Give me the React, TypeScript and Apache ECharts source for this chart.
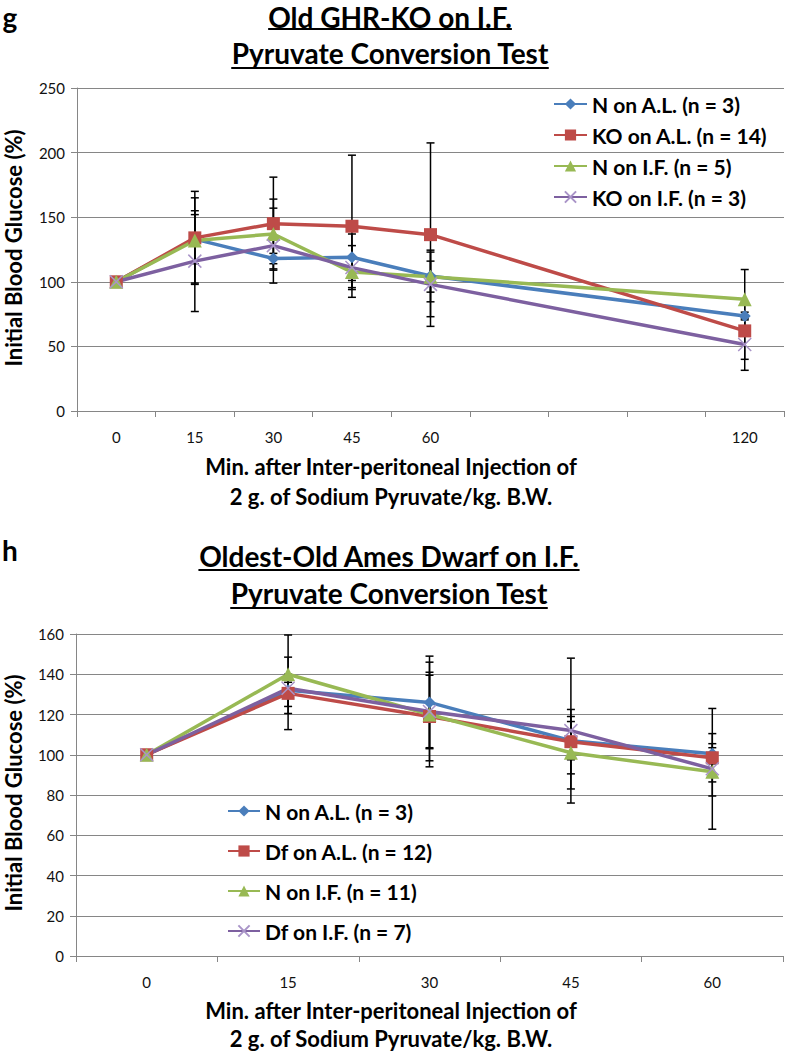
import React, { useEffect, useRef } from "react";
import * as echarts from "echarts";

// ---------- Data ----------
const topCategories = ["0", "15", "30", "45", "60", "", "", "", "120"];
const topNames = ["N on A.L. (n = 3)", "KO on A.L. (n = 14)", "N on I.F. (n = 5)", "KO on I.F. (n = 3)"];
const topNAL = [100, 133, 118, 119, 104.5, null, null, null, 73.5];
const topKOAL = [100, 134, 145, 143, 136.5, null, null, null, 62];
const topNIF = [100, 132, 137, 107.5, 104, null, null, null, 86.5];
const topKOIF = [100, 116, 128, 111, 98, null, null, null, 51.5];
const topNALErr = [0, 19, 4, 18, 20, null, null, null, 3];
const topKOALErr = [0, 36, 36, 55, 71, null, null, null, 22];
const topNIFErr = [0, 33, 27, 12, 12, null, null, null, 23];
const topKOIFErr = [0, 39, 29, 17, 25, null, null, null, 20];

const botCategories = ["0", "15", "30", "45", "60"];
const botNames = ["N on A.L. (n = 3)", "Df on A.L. (n = 12)", "N on I.F. (n = 11)", "Df on I.F. (n = 7)"];
const botNAL = [100, 132, 126, 107, 100.5];
const botDfAL = [100, 130.5, 119, 106.5, 98.5];
const botNIF = [100, 140, 120, 101, 91.5];
const botDfIF = [100, 133, 121.5, 112, 93];
const botNALErr = [0, 8, 23, 9.5, 5];
const botDfALErr = [0, 18, 22, 16, 12];
const botNIFErr = [0, 19.5, 26, 18, 12];
const botDfIFErr = [0, 3, 18, 36, 30];

const colors = ["#4A7EBB", "#BE4B48", "#98B954", "#7D60A0"];
const XPATH = "path://M0,0L10,10M10,0L0,10";
const symbols = ["diamond", "rect", "triangle", XPATH];
const symbolSizes = [12, 13, 14, 13];

const FONT = 'Lato, "Open Sans", sans-serif';

function measure(text: string, size: number, weight: string) {
  const c = document.createElement("canvas").getContext("2d")!;
  c.font = `${weight} ${size}px Lato`;
  return c.measureText(text).width;
}

function lineSeries(name: string, data: any[], i: number, axis: number) {
  const isX = i === 3;
  return {
    type: "line",
    name,
    data,
    xAxisIndex: axis,
    yAxisIndex: axis,
    connectNulls: true,
    symbol: symbols[i],
    symbolSize: symbolSizes[i],
    showAllSymbol: true,
    lineStyle: { color: colors[i], width: 3.5 },
    itemStyle: isX
      ? { color: "#A994C8", borderColor: "#A994C8", borderWidth: 1.5 }
      : { color: colors[i], borderWidth: 0 },
    z: 3,
  };
}

function errSeries(vals: any[], errs: any[], axis: number) {
  const data: any[] = [];
  vals.forEach((v, i) => {
    const e = errs[i];
    if (v != null && e != null && e > 0) data.push([i, v - e, v + e]);
  });
  return {
    type: "custom",
    xAxisIndex: axis,
    yAxisIndex: axis,
    silent: true,
    z: 2,
    encode: { x: 0, y: [1, 2] },
    data,
    renderItem: (params: any, api: any) => {
      const x = api.value(0);
      const lo = api.coord([x, api.value(1)]);
      const hi = api.coord([x, api.value(2)]);
      const w = 4;
      const style = { stroke: "#000", lineWidth: 1.5 };
      return {
        type: "group",
        children: [
          { type: "line", shape: { x1: lo[0], y1: lo[1], x2: hi[0], y2: hi[1] }, style },
          { type: "line", shape: { x1: lo[0] - w, y1: lo[1], x2: lo[0] + w, y2: lo[1] }, style },
          { type: "line", shape: { x1: hi[0] - w, y1: hi[1], x2: hi[0] + w, y2: hi[1] }, style },
        ],
      };
    },
  };
}

function underlinedTitle(text: string, cx: number, cy: number, size: number, ulY: number) {
  const w = measure(text, size, "bold");
  return [
    {
      type: "text",
      x: cx,
      y: cy,
      style: {
        text,
        align: "center",
        verticalAlign: "middle",
        fontSize: size,
        fontWeight: "bold",
        fontFamily: FONT,
        fill: "#000",
      },
    },
    {
      type: "rect",
      shape: { x: cx - w / 2, y: ulY, width: w, height: 2 },
      style: { fill: "#000" },
    },
  ];
}

function plainText(text: string, x: number, y: number, size: number, rotation = 0) {
  return {
    type: "text",
    x,
    y,
    rotation,
    style: {
      text,
      align: "center",
      verticalAlign: "middle",
      fontSize: size,
      fontWeight: "bold",
      fontFamily: FONT,
      fill: "#000",
    },
  };
}

const axisCommonX = {
  type: "category",
  boundaryGap: true,
  axisLine: { lineStyle: { color: "#868686", width: 1 } },
  axisTick: { show: true, alignWithLabel: false, length: 6, lineStyle: { color: "#868686" } },
  axisLabel: { color: "#111", fontSize: 15, fontFamily: FONT, margin: 18, interval: 0 },
  splitLine: { show: false },
};

const axisCommonY = {
  type: "value",
  axisLine: { show: true, lineStyle: { color: "#868686", width: 1 } },
  axisTick: { show: true, length: 6, lineStyle: { color: "#868686" } },
  axisLabel: { color: "#111", fontSize: 15, fontFamily: FONT, margin: 12 },
  splitLine: { show: true, lineStyle: { color: "#868686", width: 1 } },
};

export default function App() {
  const ref = useRef<HTMLDivElement>(null);
  useEffect(() => {
    const chart = echarts.init(ref.current!, null, { renderer: "svg" });
    const topVals = [topNAL, topKOAL, topNIF, topKOIF];
    const topErrs = [topNALErr, topKOALErr, topNIFErr, topKOIFErr];
    const botVals = [botNAL, botDfAL, botNIF, botDfIF];
    const botErrs = [botNALErr, botDfALErr, botNIFErr, botDfIFErr];

    const series: any[] = [];
    topVals.forEach((v, i) => series.push(errSeries(v, topErrs[i], 0)));
    botVals.forEach((v, i) => series.push(errSeries(v, botErrs[i], 1)));
    topVals.forEach((v, i) => series.push(lineSeries(topNames[i], v, i, 0)));
    botVals.forEach((v, i) => series.push(lineSeries(botNames[i], v, i, 1)));

    chart.setOption({
      animation: false,
      backgroundColor: "#fff",
      grid: [
        { left: 77, right: 3, top: 88, height: 323 },
        { left: 76, right: 4, top: 634, height: 322 },
      ],
      xAxis: [
        { ...axisCommonX, gridIndex: 0, data: topCategories },
        { ...axisCommonX, gridIndex: 1, data: botCategories },
      ],
      yAxis: [
        { ...axisCommonY, gridIndex: 0, min: 0, max: 250, interval: 50 },
        { ...axisCommonY, gridIndex: 1, min: 0, max: 160, interval: 20 },
      ],
      legend: [
        {
          data: topNames,
          orient: "vertical",
          left: 548,
          top: 88,
          itemWidth: 33,
          itemHeight: 14,
          itemGap: 9,
          textStyle: { fontSize: 21, lineHeight: 22, fontWeight: "bold", fontFamily: FONT, color: "#000" },
          selectedMode: false,
        },
        {
          data: botNames,
          orient: "vertical",
          left: 222,
          top: 795,
          itemWidth: 32,
          itemHeight: 14,
          itemGap: 18,
          textStyle: { fontSize: 21, lineHeight: 22, fontWeight: "bold", fontFamily: FONT, color: "#000" },
          selectedMode: false,
        },
      ],
      graphic: [
        plainText("g", 10, 17, 28),
        ...underlinedTitle("Old GHR-KO on I.F.", 390, 17, 28, 28),
        ...underlinedTitle("Pyruvate Conversion Test", 390, 53, 28, 67),
        plainText("Initial Blood Glucose (%)", 13, 248, 22, Math.PI / 2),
        plainText("Min. after Inter-peritoneal Injection of", 391, 466, 22),
        plainText("2 g. of Sodium Pyruvate/kg. B.W.", 391, 496, 22),
        plainText("h", 10, 550, 28),
        ...underlinedTitle("Oldest-Old Ames Dwarf on I.F.", 389, 556, 28, 569),
        ...underlinedTitle("Pyruvate Conversion Test", 389, 593, 28, 607),
        plainText("Initial Blood Glucose (%)", 13, 793, 22, Math.PI / 2),
        plainText("Min. after Inter-peritoneal Injection of", 391, 1010, 22),
        plainText("2 g. of Sodium Pyruvate/kg. B.W.", 391, 1038, 22),
      ],
      series,
    });
    return () => chart.dispose();
  }, []);
  return (
    <div
      ref={ref}
      style={{ position: "absolute", left: 0, top: 0, width: 787, height: 1051 }}
    />
  );
}
